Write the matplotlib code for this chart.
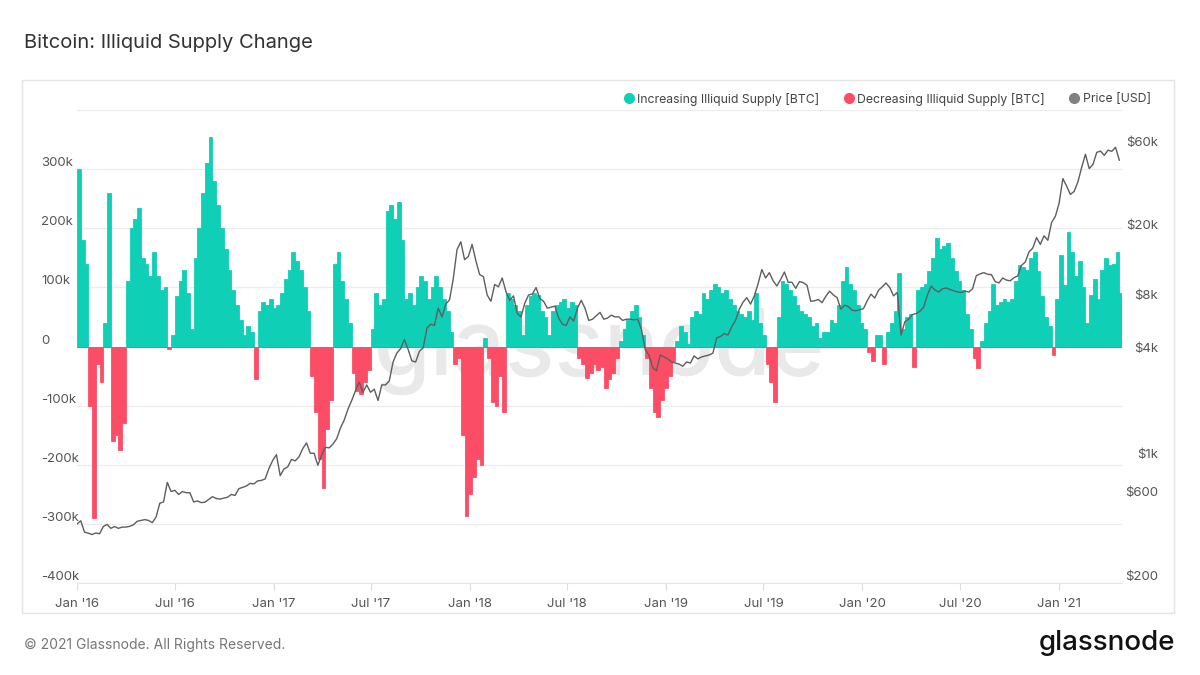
import numpy as np
import pandas as pd
import matplotlib
matplotlib.use("Agg")
import matplotlib.pyplot as plt
import matplotlib.dates as mdates
from matplotlib.lines import Line2D
from matplotlib.patches import Rectangle

plt.rcParams['font.family'] = ['Inter', 'DejaVu Sans']

# weekly readings, starting 2016-01-01
start_date = "2016-01-01"

# illiquid supply change, thousands of BTC
illiquid_change_k = [
    300, 180, 140, -100, -290, -30, -60, 40, 260, -160,
    -150, -175, -130, 110, 200, 215, 234, 150, 140, 120,
    160, 120, 95, 100, -5, 20, 85, 110, 130, 90,
    30, 150, 200, 260, 310, 355, 280, 240, 200, 165,
    130, 95, 70, 45, 20, 35, 25, -55, 60, 75,
    70, 80, 65, 70, 90, 115, 130, 160, 145, 130,
    100, 60, -50, -110, -190, -240, -140, -90, 140, 160,
    110, 80, 40, -45, -75, -80, -60, -40, 30, 90,
    70, 80, 230, 240, 215, 245, 180, 80, 90, 70,
    100, 120, 110, 80, 100, 120, 100, 80, 60, 25,
    -30, -20, -150, -286, -250, -220, -190, -200, 15, -20,
    -94, -100, -50, -110, 90, 80, 70, 60, 20, 70,
    85, 90, 87, 60, 50, 20, 60, 70, 75, 80,
    65, 75, 70, -20, -30, -54, -45, -30, -40, -35,
    -71, -55, -45, -20, 10, 30, 45, 60, 70, 50,
    20, -20, -70, -110, -120, -90, -70, -50, -25, 10,
    35, 25, 5, 50, 60, 55, 90, 80, 95, 105,
    100, 90, 95, 80, 70, 60, 55, 50, 60, 45,
    90, 40, 20, -30, -60, -94, 50, 110, 105, 95,
    85, 70, 60, 55, 50, 35, 40, 15, 25, 25,
    45, 40, 70, 110, 135, 105, 95, 70, 40, 30,
    -10, -25, 20, 20, -29, 25, 40, 60, 125, 30,
    50, 55, -35, 95, 100, 105, 127, 150, 183, 165,
    170, 175, 150, 127, 110, 95, 55, 30, -20, -37,
    10, 40, 60, 105, 70, 75, 80, 75, 80, 110,
    138, 135, 130, 150, 160, 127, 85, 50, 35, -14,
    80, 155, 104, 194, 160, 120, 145, 100, 40, 87,
    115, 80, 130, 150, 138, 140, 160, 90,
]

# BTC price, USD
price_usd = [
    434, 453, 390, 385, 378, 386, 382, 420, 432, 410,
    420, 410, 417, 417, 421, 430, 450, 455, 460, 455,
    442, 475, 570, 580, 750, 665, 676, 640, 665, 655,
    655, 580, 588, 575, 578, 600, 622, 607, 602, 610,
    617, 640, 632, 690, 703, 715, 740, 735, 765, 770,
    785, 900, 1000, 1080, 820, 895, 920, 1015, 995, 1050,
    1170, 1260, 1100, 1100, 940, 1070, 1190, 1180, 1240, 1330,
    1530, 1700, 1960, 2200, 2500, 2800, 2450, 2700, 2450, 2550,
    2200, 2700, 2700, 2850, 3650, 4100, 4350, 4900, 4300, 3700,
    3650, 4200, 4400, 5700, 6000, 5900, 7400, 6600, 7800, 8250,
    10900, 16000, 17700, 14000, 14600, 17100, 13800, 11500, 11200, 8800,
    8100, 10100, 9800, 11000, 9200, 8200, 8700, 6900, 6600, 7900,
    8800, 8900, 9700, 8400, 8100, 7400, 7500, 7600, 6500, 6000,
    5900, 6600, 6250, 7400, 8200, 7400, 6300, 6400, 6700, 7000,
    6400, 6500, 6750, 6600, 6600, 6300, 6400, 6400, 6350, 6400,
    5600, 4300, 4000, 3400, 3250, 4000, 3900, 3800, 3650, 3600,
    3550, 3450, 3650, 3600, 3950, 3800, 3900, 3950, 4000, 4100,
    5000, 5100, 5300, 5200, 5800, 6300, 7300, 8000, 8500, 7800,
    8700, 10200, 12300, 11000, 11800, 10600, 9900, 10800, 11900, 10400,
    10400, 9600, 10500, 10350, 10000, 8100, 8150, 8300, 7950, 8650,
    9250, 8800, 8500, 7300, 7700, 7550, 7200, 7150, 7250, 7350,
    8150, 8900, 8450, 9350, 9800, 10300, 9700, 8700, 9100, 5200,
    6200, 6400, 6800, 6900, 7100, 7500, 8800, 9900, 9400, 9150,
    9550, 9650, 9450, 9300, 9150, 9100, 9250, 9150, 9550, 11350,
    11600, 11800, 11550, 11500, 10500, 10300, 11000, 10700, 10600, 11050,
    11300, 13000, 13550, 15500, 16300, 18700, 17100, 19150, 18050, 22800,
    24700, 29400, 40600, 36800, 33000, 34300, 38900, 47100, 55900, 46300,
    48900, 57300, 58300, 55100, 59000, 58100, 61300, 51700,
]

left_ticks = [-400, -300, -200, -100, 0, 100, 200, 300, 400]
left_labels = ['-400k', '-300k', '-200k', '-100k', '0', '100k', '200k', '300k', '']
price_ticks = [200, 600, 1000, 4000, 8000, 20000, 60000]
price_labels = ['$200', '$600', '$1k', '$4k', '$8k', '$20k', '$60k']

teal = '#10cfb7'
red = '#fc4d66'
grey_line = '#5e5e5e'

dates = pd.date_range(start_date, periods=len(illiquid_change_k), freq='7D')
vals = np.array(illiquid_change_k) * 1000

fig = plt.figure(figsize=(12, 6.75), dpi=100)
ax = fig.add_axes([77 / 1200, 1 - 583 / 675, (1122 - 77) / 1200, (583 - 110) / 675])

# watermark behind everything
ax.text(0.5, 0.49, 'glassnode', transform=ax.transAxes, fontsize=66,
        color='#e9e9e9', ha='center', va='center', zorder=0, fontweight='medium')

ax.bar(dates, np.where(vals > 0, vals, 0), width=7, align='edge', color=teal,
       edgecolor=teal, linewidth=0.6, zorder=2)
ax.bar(dates, np.where(vals < 0, vals, 0), width=7, align='edge', color=red,
       edgecolor=red, linewidth=0.6, zorder=2)

ax.set_ylim(-400000, 400000)
ax.set_yticks(np.array(left_ticks) * 1000)
ax.set_yticklabels(left_labels)
ax.yaxis.grid(True, color='#ececec', linewidth=0.9, zorder=1)
ax.set_axisbelow(True)
ax.tick_params(axis='y', length=0, pad=26, labelsize=9.5, labelcolor='#555555')
for lbl in ax.get_yticklabels():
    lbl.set_horizontalalignment('left')
    lbl.set_verticalalignment('bottom')

ax.set_xlim(pd.Timestamp('2016-01-01'), pd.Timestamp('2021-04-28'))
xt = pd.date_range('2016-01-01', '2021-01-01', freq='6MS')
ax.set_xticks(xt)
ax.xaxis.set_major_formatter(mdates.DateFormatter("%b '%y"))
ax.tick_params(axis='x', length=5, color='#dddddd', pad=6, labelsize=9.5, labelcolor='#555555')

for s in ['top', 'left', 'right']:
    ax.spines[s].set_visible(False)
ax.spines['bottom'].set_color('#e6e6e6')

ax2 = ax.twinx()
ax2.plot(dates, price_usd, color=grey_line, linewidth=1.0, zorder=3)
ax2.set_yscale('log')
ax2.set_ylim(200, 100000)
ax2.set_yticks(price_ticks)
ax2.set_yticklabels(price_labels)
ax2.minorticks_off()
ax2.tick_params(axis='y', length=0, pad=26, labelsize=9.5, labelcolor='#555555')
for lbl in ax2.get_yticklabels():
    lbl.set_horizontalalignment('right')
    lbl.set_verticalalignment('bottom')
for s in ['top', 'left', 'right', 'bottom']:
    ax2.spines[s].set_visible(False)

# outer panel frame
fig.add_artist(Rectangle((22 / 1200, 1 - 613 / 675), (1174 - 22) / 1200, (613 - 80) / 675,
                         transform=fig.transFigure, fill=False, edgecolor='#e4e4e4', linewidth=1))

fig.text(24 / 1200, 1 - 43 / 675, 'Bitcoin: Illiquid Supply Change', fontsize=14.5,
         color='#333333', ha='left', va='center')

handles = [
    Line2D([], [], marker='o', linestyle='', color=teal, markersize=7),
    Line2D([], [], marker='o', linestyle='', color=red, markersize=7),
    Line2D([], [], marker='o', linestyle='', color='#808080', markersize=7),
]
fig.legend(handles, ['Increasing Illiquid Supply [BTC]', 'Decreasing Illiquid Supply [BTC]', 'Price [USD]'],
           loc='center right', bbox_to_anchor=(1162 / 1200, 1 - 99 / 675), ncol=3, frameon=False,
           fontsize=8.8, handletextpad=0.3, columnspacing=2.0, handlelength=0.8, labelcolor='#444444')

fig.text(24 / 1200, 1 - 645 / 675, '\u00a9 2021 Glassnode. All Rights Reserved.', fontsize=10,
         color='#777777', ha='left', va='center')
fig.text(1175 / 1200, 1 - 643 / 675, 'glassnode', fontsize=20, color='#111111',
         ha='right', va='center', fontweight='medium')

fig.savefig('out.png', dpi=100)
